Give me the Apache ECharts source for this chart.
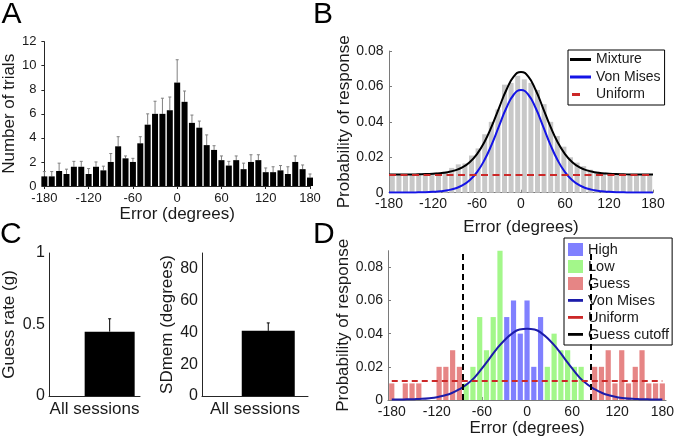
<!DOCTYPE html>
<html><head><meta charset="utf-8">
<script src="https://cdn.jsdelivr.net/npm/echarts@6/dist/echarts.min.js"></script>
<style>html,body{margin:0;padding:0;background:#fff}#c{width:677px;height:444px}</style>
</head><body><div id="c"></div>
<script>
// ---------- Panel A ----------
const aCenters = [-180,-170,-160,-150,-140,-130,-120,-110,-100,-90,-80,-70,-60,-50,-40,-30,-20,-10,0,10,20,30,40,50,60,70,80,90,100,110,120,130,140,150,160,170,180];
const aCounts  = [0.8,0.8,1.25,1.0,1.6,1.6,1.0,1.6,1.3,2.0,3.3,2.3,2.0,3.55,5.1,6.0,6.0,6.3,8.6,7.0,5.25,4.85,3.4,3.0,2.15,1.7,2.15,1.4,2.0,2.15,1.15,1.15,1.3,1.0,2.0,1.4,0.7];
const aErrTop  = [1.2,1.2,1.9,1.4,2.05,2.05,1.45,2.0,1.65,2.7,4.1,2.5,2.3,4.1,6.0,7.05,7.3,7.4,10.5,7.9,5.9,5.4,4.25,3.35,2.5,2.05,2.5,1.9,2.6,2.6,1.5,1.6,1.7,1.6,2.5,1.75,1.0];
const aXTicks = [-180,-120,-60,0,60,120,180];

// ---------- Panel B ----------
const bCenters = [-175.5,-166.5,-157.5,-148.5,-139.5,-130.5,-121.5,-112.5,-103.5,-94.5,-85.5,-76.5,-67.5,-58.5,-49.5,-40.5,-31.5,-22.5,-13.5,-4.5,4.5,13.5,22.5,31.5,40.5,49.5,58.5,67.5,76.5,85.5,94.5,103.5,112.5,121.5,130.5,139.5,148.5,157.5,166.5,175.5];
const bProb = [0.0105,0.0105,0.0103,0.0105,0.0106,0.0108,0.011,0.0115,0.012,0.014,0.016,0.0165,0.021,0.025,0.033,0.040,0.047,0.061,0.062,0.066,0.064,0.062,0.058,0.050,0.040,0.032,0.026,0.020,0.017,0.015,0.013,0.012,0.0115,0.011,0.0108,0.0105,0.0105,0.0104,0.0105,0.0105];
const curveX = [-180,-170,-160,-150,-140,-130,-120,-110,-100,-90,-80,-70,-60,-50,-40,-30,-20,-10,0,10,20,30,40,50,60,70,80,90,100,110,120,130,140,150,160,170,180];
const bMixture  = [0.0103,0.0103,0.0103,0.0103,0.0104,0.0105,0.0107,0.0110,0.0116,0.0126,0.0143,0.0172,0.0218,0.0285,0.0374,0.0478,0.0580,0.0655,0.0682,0.0655,0.0580,0.0478,0.0374,0.0285,0.0218,0.0172,0.0143,0.0126,0.0116,0.0110,0.0107,0.0105,0.0104,0.0103,0.0103,0.0103,0.0103];
const bVonMises = [0.0001,0.0001,0.0001,0.0001,0.0002,0.0003,0.0005,0.0008,0.0014,0.0024,0.0041,0.0070,0.0116,0.0183,0.0272,0.0376,0.0478,0.0553,0.0580,0.0553,0.0478,0.0376,0.0272,0.0183,0.0116,0.0070,0.0041,0.0024,0.0014,0.0008,0.0005,0.0003,0.0002,0.0001,0.0001,0.0001,0.0001];
const bUniform = 0.0100;
const bYTicks = [0,0.02,0.04,0.06,0.08];

// ---------- Panel C ----------
const cGuessRate = 0.45, cGuessRateErr = 0.54;
const cSDmem = 41, cSDmemErr = 46;
const cCategory = 'All sessions';

// ---------- Panel D ----------
const dCenters = [-180,-171,-162,-153,-144,-135,-126,-117,-108,-99,-90,-81,-72,-63,-54,-45,-36,-27,-18,-9,0,9,18,27,36,45,54,63,72,81,90,99,108,117,126,135,144,153,162,171,180];
const dProb  = [0.01,null,0.01,0.01,0.01,null,null,0.02,0.02,0.03,0.02, 0.01,0.02,0.05,0.03,0.05,0.09, 0.05,0.06,0.04,0.06,0.02,0.05, 0.02,0.04,0.03,0.03,0.02,0.02, null, 0.02,0.02,0.03,0.01,0.03,0.01,0.02,0.03,0.01,0.01,0.01];
const dClass = ['G','G','G','G','G','G','G','G','G','G','G', 'L','L','L','L','L','L', 'H','H','H','H','H','H', 'L','L','L','L','L','L', 'L', 'G','G','G','G','G','G','G','G','G','G','G'];
const dVonMises = [0.0003,0.0003,0.0004,0.0005,0.0007,0.0011,0.0017,0.0027,0.0042,0.0065,0.0095,0.0135,0.019,0.025,0.031,0.036,0.040,0.0425,0.043,0.0425,0.040,0.036,0.031,0.025,0.019,0.0135,0.0095,0.0065,0.0042,0.0027,0.0017,0.0011,0.0007,0.0005,0.0004,0.0003,0.0003];
const dUniform = 0.0115;
const dCutoffs = [-85, 85];
const dXTicks = [-180,-120,-60,0,60,120,180];
const dYTicks = [0,0.02,0.04,0.06,0.08];

// ---------- styling ----------
const FONT = '"Liberation Sans", Arial, Helvetica, sans-serif';
const TXT = '#1a1a1a';
const AX_DARK = '#262626';
const AX_GRAY = '#7a7a7a';
const BLUE = '#1414e6';
const DBLUE = '#1c1caa';
const RED = '#cc2828';
const C_HIGH = '#8080ff', C_LOW = '#a3f78a', C_GUESS = '#e68585';

function axis(o) {
  const base = {
    type: 'value', splitLine: {show: false},
    nameLocation: 'middle',
    nameTextStyle: {color: TXT, fontFamily: FONT, fontSize: 17},
    axisLine: {show: true, onZero: false, lineStyle: {color: o.lineColor || AX_DARK, width: 1}},
    axisTick: {show: true, inside: o.tickInside !== false, length: 3, lineStyle: {color: o.lineColor || AX_DARK}},
    axisLabel: {color: TXT, fontFamily: FONT, fontSize: o.fontSize || 14, margin: o.margin || 6}
  };
  const r = base;
  ['gridIndex','min','max','interval','name','nameGap'].forEach(k => { if (o[k] !== undefined) r[k] = o[k]; });
  if (o.labelFormatter) r.axisLabel.formatter = o.labelFormatter;
  if (o.customValues) { r.axisLabel.customValues = o.customValues; r.axisTick.customValues = o.customValues; }
  if (o.hideLabels) { r.axisLabel.show = false; r.axisTick.show = false; }
  if (o.hideTicks) { r.axisTick.show = false; }
  return r;
}
const fmt2 = v => (v === 0 ? '0' : v.toFixed(2));

function errorBar(color, cap) {
  return function (params, api) {
    const x = api.value(0);
    const p0 = api.coord([x, api.value(1)]);
    const p1 = api.coord([x, api.value(2)]);
    return {type: 'group', children: [
      {type: 'line', shape: {x1: p0[0], y1: p0[1], x2: p1[0], y2: p1[1]}, style: {stroke: color, lineWidth: 1}},
      {type: 'line', shape: {x1: p1[0] - cap, y1: p1[1], x2: p1[0] + cap, y2: p1[1]}, style: {stroke: color, lineWidth: 1}}
    ]};
  };
}

const LINE_B = 'path://M0,0 M21,14 M0,5.5 L21,5.5 L21,8.5 L0,8.5 Z';
const DASH_B = 'path://M0,0 M21,14 M2,5.5 L10,5.5 L10,8.5 L2,8.5 Z';
const LINE_D = 'path://M0,0 M15,13 M0,5 L15,5 L15,7.8 L0,7.8 Z';

const dSeries = {H: 'High', L: 'Low', G: 'Guess'};
const dColors = {H: C_HIGH, L: C_LOW, G: C_GUESS};
const dBarSeries = ['H', 'L', 'G'].map(cls => ({
  type: 'bar', name: dSeries[cls], xAxisIndex: 4, yAxisIndex: 4,
  barWidth: 5.2, barGap: '-100%', clip: false,
  itemStyle: {color: dColors[cls]},
  data: dCenters.map((x, i) => (dClass[i] === cls && dProb[i] != null) ? [x, dProb[i]] : null).filter(d => d)
}));

const curve = (name, xi, yi, color, vals) => ({
  type: 'line', name, xAxisIndex: xi, yAxisIndex: yi, showSymbol: false, smooth: 0.5,
  lineStyle: {color, width: 2}, itemStyle: {color}, data: curveX.map((x, i) => [x, vals[i]])
});

const option = {
  animation: false,
  backgroundColor: '#fff',
  textStyle: {fontFamily: FONT},
  grid: [
    {left: 42, top: 41.7, width: 268, height: 144.3},
    {left: 389, top: 51, width: 264, height: 141.7},
    {left: 47, top: 253, width: 93, height: 143},
    {left: 202, top: 253, width: 106, height: 143},
    {left: 388, top: 250.7, width: 281, height: 149.3}
  ],
  xAxis: [
    axis({gridIndex: 0, min: -180, max: 180, interval: 60, name: 'Error (degrees)', nameGap: 17, fontSize: 13, margin: 6, tickInside: false}),
    axis({gridIndex: 1, min: -180, max: 180, interval: 60, name: 'Error (degrees)', nameGap: 26, margin: 4.5, lineColor: AX_GRAY}),
    axis({gridIndex: 2, min: 0, max: 1.5, name: cCategory, nameGap: 5, hideLabels: true}),
    axis({gridIndex: 3, min: 0, max: 1.6, name: cCategory, nameGap: 5, hideLabels: true}),
    axis({gridIndex: 4, min: -185, max: 185, customValues: dXTicks, name: 'Error (degrees)', nameGap: 18, margin: 5, lineColor: AX_GRAY})
  ],
  yAxis: [
    axis({gridIndex: 0, min: 0, max: 12, interval: 2, name: 'Number of trials', nameGap: 21, fontSize: 13, margin: 8, tickInside: false}),
    axis({gridIndex: 1, min: 0, max: 0.08, interval: 0.02, name: 'Probability of response', nameGap: 31, margin: 5.5, labelFormatter: fmt2, lineColor: AX_GRAY}),
    axis({gridIndex: 2, min: 0, max: 1, interval: 0.5, name: 'Guess rate (g)', nameGap: 31, fontSize: 16, margin: 4, hideTicks: true, labelFormatter: v => String(v)}),
    axis({gridIndex: 3, min: 0, max: 90, interval: 10, name: 'SDmem (degrees)', nameGap: 26, fontSize: 16, margin: 4, hideTicks: true, labelFormatter: v => (v % 20 === 0 ? String(v) : '')}),
    axis({gridIndex: 4, min: 0, max: 0.09, customValues: dYTicks, name: 'Probability of response', nameGap: 31, margin: 5, labelFormatter: fmt2, lineColor: AX_GRAY})
  ],
  legend: [
    {
      left: 568, top: 50, orient: 'vertical', selectedMode: false,
      itemWidth: 21, itemHeight: 14, itemGap: 0.5,
      padding: [1, 4, 2, 2], borderColor: '#000', borderWidth: 1, backgroundColor: '#fff',
      textStyle: {fontFamily: FONT, fontSize: 14, color: TXT, lineHeight: 17},
      data: [
        {name: 'Mixture', icon: LINE_B, itemStyle: {color: '#000', borderWidth: 0}},
        {name: 'Von Mises', icon: LINE_B, itemStyle: {color: BLUE, borderWidth: 0}},
        {name: 'Uniform', icon: DASH_B, itemStyle: {color: RED, borderWidth: 0}}
      ]
    },
    {
      left: 564, top: 238, orient: 'vertical', selectedMode: false,
      itemWidth: 15, itemHeight: 13, itemGap: 0,
      padding: [3, 3, 2, 4], borderColor: '#000', borderWidth: 1, backgroundColor: '#fff',
      textStyle: {fontFamily: FONT, fontSize: 14.5, color: TXT, lineHeight: 17},
      data: [
        {name: 'High', icon: 'rect', itemStyle: {color: C_HIGH, borderWidth: 0}},
        {name: 'Low', icon: 'rect', itemStyle: {color: C_LOW, borderWidth: 0}},
        {name: 'Guess', icon: 'rect', itemStyle: {color: C_GUESS, borderWidth: 0}},
        {name: 'Von Mises', icon: LINE_D, itemStyle: {color: DBLUE, borderWidth: 0}},
        {name: 'Uniform', icon: LINE_D, itemStyle: {color: RED, borderWidth: 0}},
        {name: 'Guess cutoff', icon: LINE_D, itemStyle: {color: '#000', borderWidth: 0}}
      ]
    }
  ],
  graphic: [
    {type: 'text', left: 1.5, top: 0, style: {text: 'A', font: '30px ' + FONT, fill: '#000'}},
    {type: 'text', left: 313, top: 0, style: {text: 'B', font: '30px ' + FONT, fill: '#000'}},
    {type: 'text', left: 0, top: 219.6, style: {text: 'C', font: '30px ' + FONT, fill: '#000'}},
    {type: 'text', left: 313, top: 219.6, style: {text: 'D', font: '30px ' + FONT, fill: '#000'}}
  ],
  series: [
    // A
    {type: 'bar', xAxisIndex: 0, yAxisIndex: 0, barWidth: 6, clip: false, itemStyle: {color: '#000'},
     data: aCenters.map((x, i) => [x, aCounts[i]])},
    {type: 'custom', xAxisIndex: 0, yAxisIndex: 0, renderItem: errorBar('#808080', 1.5),
     encode: {x: 0, y: [1, 2]}, data: aCenters.map((x, i) => [x, aCounts[i], aErrTop[i]])},
    // B
    {type: 'bar', xAxisIndex: 1, yAxisIndex: 1, barWidth: 5, itemStyle: {color: '#c8c8c8'},
     data: bCenters.map((x, i) => [x, bProb[i]])},
    curve('Mixture', 1, 1, '#000', bMixture),
    curve('Von Mises', 1, 1, BLUE, bVonMises),
    {type: 'line', name: 'Uniform', xAxisIndex: 1, yAxisIndex: 1, showSymbol: false,
     lineStyle: {color: RED, width: 2, type: [7, 4.5]}, itemStyle: {color: RED}, data: [[-180, bUniform], [180, bUniform]]},
    // C
    {type: 'bar', xAxisIndex: 2, yAxisIndex: 2, barWidth: 50, itemStyle: {color: '#000'}, data: [[1, cGuessRate]]},
    {type: 'custom', xAxisIndex: 2, yAxisIndex: 2, renderItem: errorBar('#000', 1.5), encode: {x: 0, y: [1, 2]},
     data: [[1, cGuessRate, cGuessRateErr]]},
    {type: 'bar', xAxisIndex: 3, yAxisIndex: 3, barWidth: 53, itemStyle: {color: '#000'}, data: [[1, cSDmem]]},
    {type: 'custom', xAxisIndex: 3, yAxisIndex: 3, renderItem: errorBar('#000', 1.5), encode: {x: 0, y: [1, 2]},
     data: [[1, cSDmem, cSDmemErr]]},
    // D
    ...dBarSeries,
    {type: 'line', name: 'Guess cutoff', xAxisIndex: 4, yAxisIndex: 4, data: [], itemStyle: {color: '#000'},
     markLine: {silent: true, symbol: 'none', label: {show: false},
       lineStyle: {color: '#000', width: 2, type: [6, 4]},
       data: dCutoffs.map(x => ({xAxis: x}))}},
    curve('Von Mises', 4, 4, DBLUE, dVonMises),
    {type: 'line', name: 'Uniform', xAxisIndex: 4, yAxisIndex: 4, showSymbol: false,
     lineStyle: {color: RED, width: 2, type: [6, 4]}, itemStyle: {color: RED}, data: [[-180, dUniform], [180, dUniform]]}
  ]
};

const chart = echarts.init(document.getElementById('c'), null, {width: 677, height: 444});
chart.setOption(option);
</script>
</body></html>
